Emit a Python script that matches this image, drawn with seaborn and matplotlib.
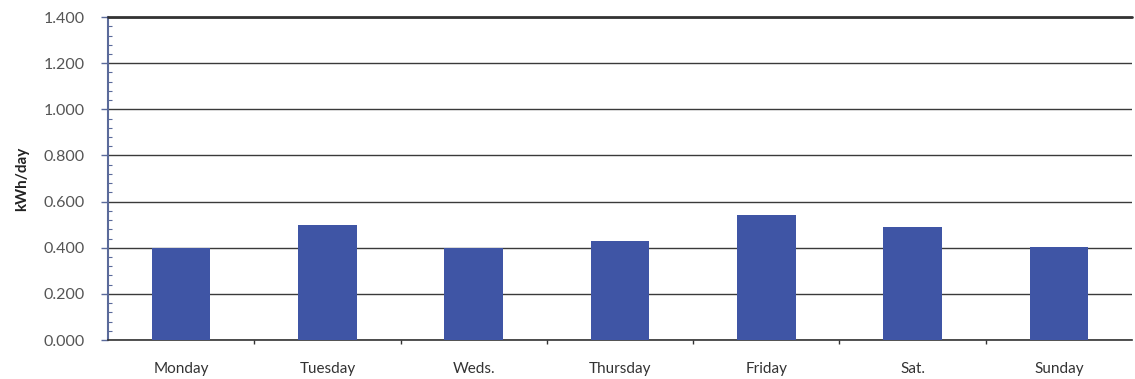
import matplotlib
matplotlib.use("Agg")
import matplotlib.pyplot as plt
import seaborn as sns
import pandas as pd
import numpy as np
from matplotlib.ticker import MultipleLocator, FixedLocator

days = ["Monday", "Tuesday", "Weds.", "Thursday", "Friday", "Sat.", "Sunday"]
kwh = [0.400, 0.500, 0.400, 0.430, 0.540, 0.488, 0.405]
yticks = [0.0, 0.2, 0.4, 0.6, 0.8, 1.0, 1.2, 1.4]
ytick_labels = ["0.000", "0.200", "0.400", "0.600", "0.800", "1.000", "1.200", "1.400"]

sns.set_theme(style="white")
plt.rcParams['font.family'] = ['Lato', 'DejaVu Sans']

df = pd.DataFrame({"day": days, "kwh": kwh})

fig = plt.figure(figsize=(11.35, 3.79), dpi=100)
ax = fig.add_axes([0.0952, 0.1029, 0.9021, 0.852])

sns.barplot(data=df, x="day", y="kwh", color="#3F55A5", width=0.4,
            saturation=1, ax=ax, zorder=3, linewidth=0, edgecolor="none")

ax.set_ylim(0, 1.4)
ax.set_xlim(-0.5, len(days) - 0.5)
ax.yaxis.set_major_locator(FixedLocator(yticks))
ax.set_yticklabels(ytick_labels)
ax.yaxis.set_minor_locator(MultipleLocator(0.04))
ax.grid(axis="y", which="major", color="#3a3a3a", linewidth=1.0, zorder=0)
ax.set_axisbelow(True)

ax.set_xlabel("")
ax.set_ylabel("kWh/day", fontsize=11, fontweight="bold", color="#222222", labelpad=10)

for side in ["top", "right"]:
    ax.spines[side].set_visible(False)
ax.spines["left"].set_color("#5a6a9a")
ax.spines["left"].set_linewidth(1.5)
ax.spines["bottom"].set_color("#333333")
ax.spines["bottom"].set_linewidth(1.2)
ax.axhline(1.4, color="#333333", linewidth=2.0, zorder=4, clip_on=False)

ax.tick_params(axis="y", which="major", direction="out", length=5, width=1,
               color="#5a6a9a", labelsize=11.5, labelcolor="#555555", left=True, pad=12)
ax.tick_params(axis="y", which="minor", direction="in", length=3, width=0.8,
               color="#5a6a9a", left=True)
ax.set_xticks(np.arange(len(days)))
ax.set_xticklabels(days)
ax.tick_params(axis="x", which="major", length=0, labelsize=11, labelcolor="#333333", pad=16)
ax.xaxis.set_minor_locator(FixedLocator(np.arange(0.5, len(days) - 0.5, 1.0)))
ax.tick_params(axis="x", which="minor", direction="out", length=3, color="#333333", bottom=True)

fig.savefig("out.png", dpi=100, facecolor="white")
